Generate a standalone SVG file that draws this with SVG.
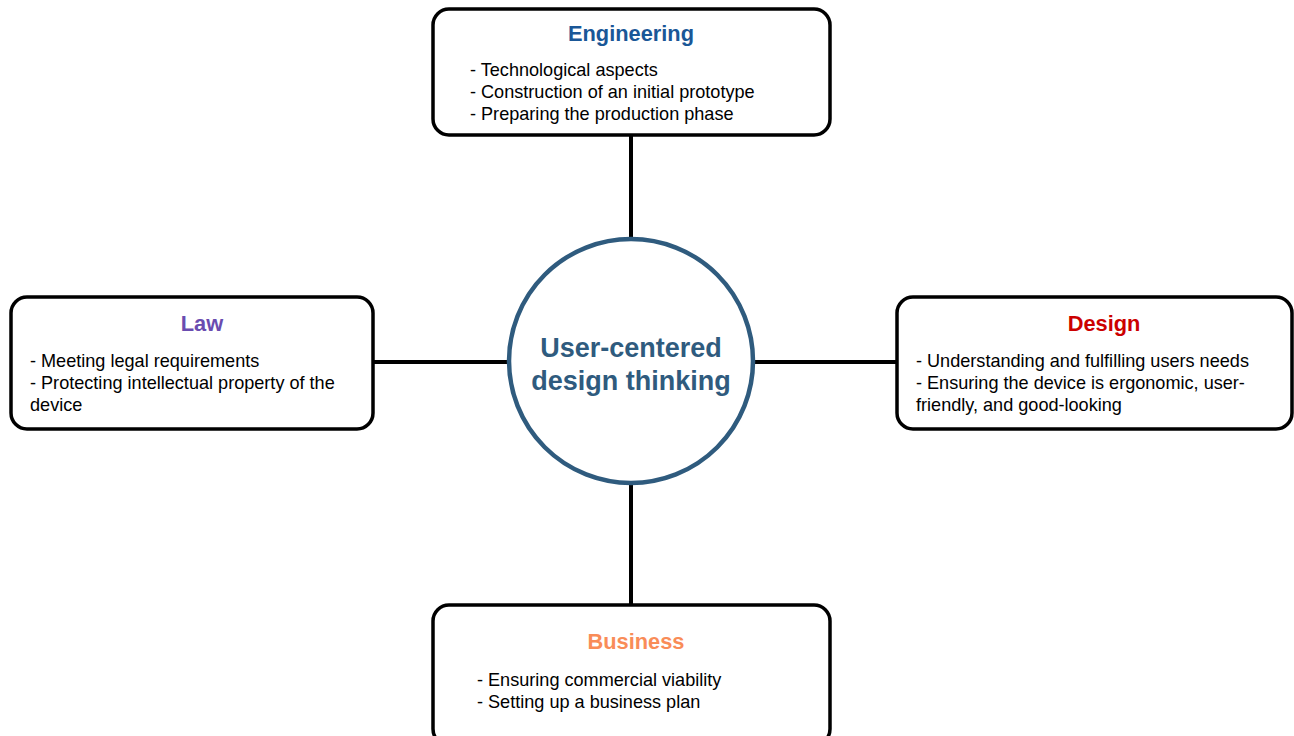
<svg xmlns="http://www.w3.org/2000/svg" width="1294" height="736" viewBox="0 0 1294 736">
  <style>
    .box { fill: #ffffff; stroke: #000000; stroke-width: 3.5; }
    .link { stroke: #000000; stroke-width: 4; fill: none; }
    .title { font-family: "Liberation Sans", Arial, sans-serif; font-size: 21.8px; font-weight: bold; text-anchor: middle; }
    .item { font-family: "Liberation Sans", Arial, sans-serif; font-size: 18.1px; fill: #000000; }
    .hub { font-family: "Liberation Sans", Arial, sans-serif; font-size: 27px; font-weight: bold; fill: #2f5b7e; text-anchor: middle; }
  </style>
  <rect width="1294" height="736" fill="#ffffff"/>

  <g id="connectors">
    <line class="link" x1="631" y1="135" x2="631" y2="240"/>
    <line class="link" x1="631" y1="482" x2="631" y2="606"/>
    <line class="link" x1="373" y1="362" x2="510" y2="362"/>
    <line class="link" x1="753" y1="362" x2="898" y2="362"/>
  </g>

  <g id="hub">
    <circle cx="631" cy="361" r="122" fill="#ffffff" stroke="#2f5b7e" stroke-width="4.5"/>
    <text class="hub" x="631" y="357">User-centered</text>
    <text class="hub" x="631" y="390">design thinking</text>
  </g>

  <g id="engineering">
    <rect class="box" x="433" y="9" width="397" height="126" rx="16"/>
    <text class="title" x="631" y="41" fill="#1a5797">Engineering</text>
    <text class="item" x="470" y="76">- Technological aspects</text>
    <text class="item" x="470" y="98">- Construction of an initial prototype</text>
    <text class="item" x="470" y="120">- Preparing the production phase</text>
  </g>

  <g id="law">
    <rect class="box" x="11" y="297" width="362" height="132" rx="16"/>
    <text class="title" x="202" y="331" fill="#6a4cb0">Law</text>
    <text class="item" x="30" y="367">- Meeting legal requirements</text>
    <text class="item" x="30" y="389">- Protecting intellectual property of the</text>
    <text class="item" x="30" y="411">device</text>
  </g>

  <g id="design">
    <rect class="box" x="897" y="297" width="395" height="132" rx="16"/>
    <text class="title" x="1104" y="331" fill="#cc0000">Design</text>
    <text class="item" x="916" y="367">- Understanding and fulfilling users needs</text>
    <text class="item" x="916" y="389">- Ensuring the device is ergonomic, user-</text>
    <text class="item" x="916" y="411">friendly, and good-looking</text>
  </g>

  <g id="business">
    <rect class="box" x="433" y="605" width="397" height="140" rx="16"/>
    <text class="title" x="636" y="649" fill="#f98c58">Business</text>
    <text class="item" x="477" y="686">- Ensuring commercial viability</text>
    <text class="item" x="477" y="708">- Setting up a business plan</text>
  </g>
</svg>
